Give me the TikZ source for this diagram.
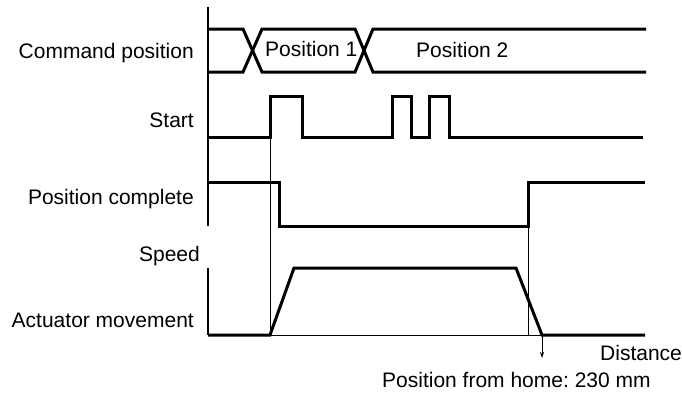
\documentclass[tikz,border=0pt]{standalone}
\usepackage{fontspec}
\setmainfont{Liberation Sans}
\usetikzlibrary{arrows.meta}
\frenchspacing
\begin{document}
\begin{tikzpicture}[x=1pt,y=-1pt,
  lbl/.style={inner sep=0pt,font=\fontsize{21}{24}\selectfont},
  sig/.style={line width=3pt,line join=miter},
  thin/.style={line width=0.8pt},
  axis/.style={line width=1.2pt}]
\useasboundingbox (0,0) rectangle (682,394);
% labels
\node[lbl,anchor=base east] (cmd) at (194,58) {Command position};
\node[lbl,anchor=base east] (st) at (194,127) {Start};
\node[lbl,anchor=base east] (pc) at (194,204) {Position complete};
\node[lbl,anchor=base east] (sp) at (200,261) {Speed};
\node[lbl,anchor=base east] (am) at (194,327) {Actuator movement};
\node[lbl,anchor=base west] (p1) at (265,56) {Position 1};
\node[lbl,anchor=base west] (p2) at (416,57) {Position 2};
\node[lbl,anchor=base west] (dist) at (600,360) {Distance};
\node[lbl,anchor=base west] (home) at (382,387) {Position from home: 230 mm};
% axes
\coordinate (ax1) at (208,7);
\coordinate (ax2) at (208,226);
\coordinate (ax3) at (208,268);
\coordinate (ax4) at (208,335);
\draw[axis] (ax1) -- (ax2);
\draw[axis] (ax3) -- (ax4);
\coordinate (base) at (645,335);
\draw[thin] (ax4) -- (base);
% thin markers
\draw[thin] (270,137) -- (270,335);
\draw[thin] (528,226) -- (528,335);
% command position
\draw[sig] (208,29) -- (243,29) -- (262,72) -- (355,72) -- (373,29) -- (646,29);
\draw[sig] (208,72) -- (243,72) -- (262,29) -- (355,29) -- (373,72) -- (646,72);
% start
\draw[sig] (208,137) -- (270,137) -- (270,96) -- (302,96) -- (302,137) -- (392,137) -- (392,96) -- (411,96) -- (411,137) -- (429,137) -- (429,96) -- (449,96) -- (449,137) -- (643,137);
% position complete
\draw[sig] (208,182) -- (279,182) -- (279,226) -- (528,226) -- (528,182) -- (645,182);
% movement
\draw[sig] (208,335) -- (270,335) -- (294,268) -- (516,268) -- (542,335) -- (645,335);
% arrow
\coordinate (a1) at (542,335);
\coordinate (a2) at (542,358);
\draw[thin,-{Stealth[length=6pt,width=4pt]}] (a1) -- (a2);
\end{tikzpicture}
\end{document}
